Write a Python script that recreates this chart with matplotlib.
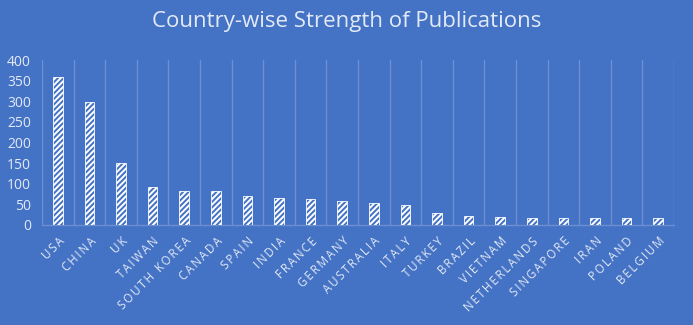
import matplotlib.pyplot as plt
import numpy as np

# data
countries = ['USA', 'CHINA', 'UK', 'TAIWAN', 'SOUTH KOREA', 'CANADA', 'SPAIN',
             'INDIA', 'FRANCE', 'GERMANY', 'AUSTRALIA', 'ITALY', 'TURKEY',
             'BRAZIL', 'VIETNAM', 'NETHERLANDS', 'SINGAPORE', 'IRAN',
             'POLAND', 'BELGIUM']
publications = [360, 299, 150, 92, 83, 82, 71, 66, 62, 57, 54, 49, 29,
                21, 19, 18, 18, 17, 17, 16]
yticks = [0, 50, 100, 150, 200, 250, 300, 350, 400]

bg = '#4472C4'
txt = '#E3EAF7'
grid = '#6D90D2'

plt.rcParams['font.family'] = ['Open Sans', 'DejaVu Sans']
plt.rcParams['hatch.linewidth'] = 1.4

fig = plt.figure(figsize=(6.93, 3.25), dpi=100, facecolor=bg)
ax = fig.add_axes([42 / 693, 1 - 225 / 325, 632 / 693, 165 / 325])
ax.set_facecolor(bg)

x = np.arange(len(countries))
ax.bar(x, publications, width=0.3, color=bg, edgecolor='white',
       hatch='//////', linewidth=0.6, zorder=3)

ax.set_xlim(-0.5, len(countries) - 0.5)
ax.set_ylim(0, 400)
ax.set_yticks(yticks)
ax.set_yticklabels([str(v) for v in yticks], color=txt, fontsize=10)

# vertical gridlines at category boundaries
for b in np.arange(-0.5, len(countries) + 0.5, 1):
    ax.axvline(b, color=grid, lw=1, zorder=1)

# letter-spaced labels like the excel chart
spaced = ['\u2009'.join(c) for c in countries]
ax.set_xticks(x)
ax.set_xticklabels(spaced, rotation=45, ha='right', rotation_mode='anchor',
                   color=txt, fontsize=8.3)
ax.tick_params(axis='both', length=0)
ax.tick_params(axis='y', pad=8)
ax.tick_params(axis='x', pad=7)

for s in ['top', 'right', 'left']:
    ax.spines[s].set_visible(False)
ax.spines['bottom'].set_color(grid)
ax.spines['bottom'].set_linewidth(1)

fig.text(0.5, 1 - 21 / 325, 'Country-wise Strength of Publications',
         ha='center', va='center', color=txt, fontsize=16)

fig.savefig('out.png', dpi=100, facecolor=bg)
